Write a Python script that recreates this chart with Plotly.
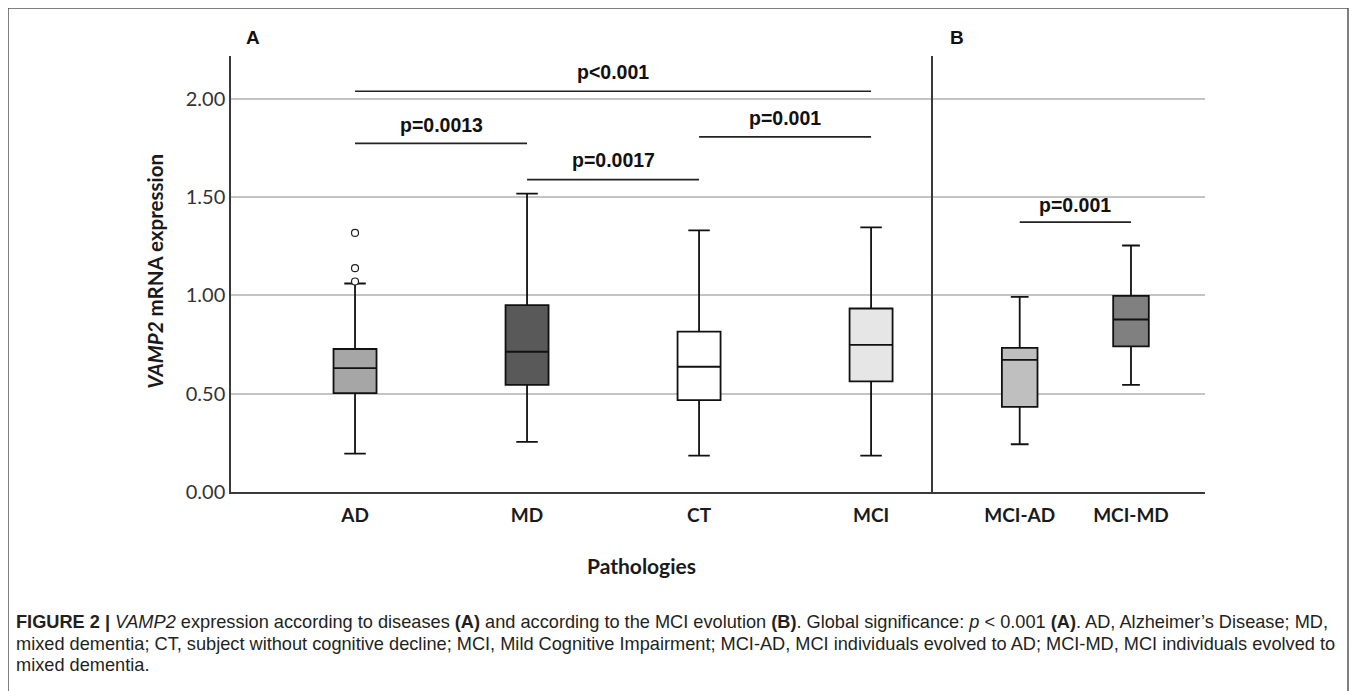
import plotly.graph_objects as go

# ---------------- data ----------------
groups_a = ["AD", "MD", "CT", "MCI"]
q1_a = [0.503, 0.545, 0.467, 0.563]
med_a = [0.630, 0.713, 0.637, 0.748]
q3_a = [0.727, 0.950, 0.815, 0.933]
lo_a = [0.195, 0.255, 0.185, 0.185]
hi_a = [1.060, 1.517, 1.330, 1.345]
colors_a = ["#a6a6a6", "#595959", "#ffffff", "#e6e6e6"]
outliers_ad = [1.317, 1.138, 1.070]

groups_b = ["MCI-AD", "MCI-MD"]
q1_b = [0.433, 0.740]
med_b = [0.672, 0.877]
q3_b = [0.733, 0.997]
lo_b = [0.243, 0.545]
hi_b = [0.992, 1.253]
colors_b = ["#bfbfbf", "#808080"]

# significance brackets: (from, to, level, label, label_y, axis)
sig_pairs = [
    ("AD", "MCI", 2.037, "p&lt;0.001", 2.135, "A"),
    ("AD", "MD", 1.772, "p=0.0013", 1.865, "A"),
    ("MD", "CT", 1.588, "p=0.0017", 1.690, "A"),
    ("CT", "MCI", 1.805, "p=0.001", 1.900, "A"),
    ("MCI-AD", "MCI-MD", 1.372, "p=0.001", 1.460, "B"),
]

y_ticks = [0.0, 0.5, 1.0, 1.5, 2.0]

# page has an 8px body margin; map screen pixels to figure fractions
OFF = 8
W, H = 1341, 683
def px_x(p): return (p - OFF) / W
def px_y(p): return 1 - (p - OFF) / H

fig = go.Figure()

for i, g in enumerate(groups_a):
    fig.add_trace(go.Box(
        x=[g], q1=[q1_a[i]], median=[med_a[i]], q3=[q3_a[i]],
        lowerfence=[lo_a[i]], upperfence=[hi_a[i]],
        fillcolor=colors_a[i], line=dict(color="#111111", width=1.8),
        width=0.25, whiskerwidth=0.5, boxpoints=False,
        xaxis="x", yaxis="y", showlegend=False, hoverinfo="skip"))

fig.add_trace(go.Scatter(
    x=["AD"] * len(outliers_ad), y=outliers_ad, mode="markers",
    marker=dict(symbol="circle", size=7, color="white",
                line=dict(color="#222222", width=1.2)),
    xaxis="x", yaxis="y", showlegend=False, hoverinfo="skip"))

for i, g in enumerate(groups_b):
    fig.add_trace(go.Box(
        x=[g], q1=[q1_b[i]], median=[med_b[i]], q3=[q3_b[i]],
        lowerfence=[lo_b[i]], upperfence=[hi_b[i]],
        fillcolor=colors_b[i], line=dict(color="#111111", width=1.8),
        width=0.32, whiskerwidth=0.5, boxpoints=False,
        xaxis="x2", yaxis="y2", showlegend=False, hoverinfo="skip"))

annotations = []
for a, b, lvl, lab, ly, ax in sig_pairs:
    xa, ya = ("x", "y") if ax == "A" else ("x2", "y2")
    cats = groups_a if ax == "A" else groups_b
    fig.add_trace(go.Scatter(
        x=[a, b], y=[lvl, lvl], mode="lines",
        line=dict(color="#222222", width=1.6),
        xaxis=xa, yaxis=ya, showlegend=False, hoverinfo="skip"))
    mid = (cats.index(a) + cats.index(b)) / 2
    annotations.append(dict(
        x=mid, y=ly, xref=xa, yref=ya, text="<b>" + lab + "</b>",
        xanchor="center", yanchor="middle",
        showarrow=False, font=dict(family="Liberation Sans, Arial", size=19.5, color="#111111")))

# panel letters
for lab, xp in (("A", 253), ("B", 957)):
    annotations.append(dict(x=px_x(xp), y=px_y(38), xref="paper", yref="paper", text="<b>" + lab + "</b>",
                            xanchor="center", yanchor="middle",
                            showarrow=False, font=dict(family="Liberation Sans, Arial", size=19, color="#111111")))
# axis titles
annotations.append(dict(x=px_x(155), y=px_y(276), xref="paper", yref="paper",
                        text="<b><i>VAMP2</i> mRNA expression</b>", textangle=-90,
                        xanchor="center", yanchor="middle",
                        showarrow=False, font=dict(family="Lato, Open Sans", size=20.5, color="#1a1a1a")))
annotations.append(dict(x=px_x(641), y=px_y(575), xref="paper", yref="paper",
                        text="<b>Pathologies</b>", xanchor="center", yanchor="middle",
                        showarrow=False, font=dict(family="Lato, Open Sans", size=21, color="#1a1a1a")))

caption_lines = [
    "<b>FIGURE 2 |</b> <i>VAMP2</i> expression according to diseases <b>(A)</b> and according to the MCI evolution <b>(B)</b>. Global significance: <i>p</i> &lt; 0.001 <b>(A)</b>. AD, Alzheimer\u2019s Disease; MD,",
    "mixed dementia; CT, subject without cognitive decline; MCI, Mild Cognitive Impairment; MCI-AD, MCI individuals evolved to AD; MCI-MD, MCI individuals evolved to",
    "mixed dementia.",
]
for k, line in enumerate(caption_lines):
    annotations.append(dict(x=px_x(14), y=px_y(632 + 22 * k), xref="paper", yref="paper",
                            xanchor="left", yanchor="middle", text=line, showarrow=False,
                            font=dict(family="Liberation Sans, Arial", size=18.2,
                                      color="#231f20")))

axis_common = dict(showline=True, linecolor="#3a3a3a", linewidth=1.5, ticks="",
                   showgrid=False, zeroline=False, fixedrange=True, ticklabelstandoff=5)
yaxis_common = dict(range=[0, 2.215], showgrid=True, gridcolor="#c4c4c4", gridwidth=1.5,
                    tickvals=y_ticks, showline=True, linecolor="#3a3a3a", linewidth=1.5,
                    ticks="", zeroline=False)

fig.update_layout(
    width=W, height=H, margin=dict(l=0, r=0, t=0, b=0),
    paper_bgcolor="white", plot_bgcolor="white",
    xaxis=dict(domain=[px_x(231), px_x(933)], type="category", categoryarray=groups_a,
               categoryorder="array", range=[-0.721, 3.36], anchor="y",
               tickfont=dict(family="Lato, Open Sans", size=19, color="#1a1a1a"),
               tickprefix="<b>", ticksuffix="</b>", **axis_common),
    xaxis2=dict(domain=[px_x(933), px_x(1205)], type="category", categoryarray=groups_b,
                categoryorder="array", range=[-0.779, 1.665], anchor="y2",
                tickfont=dict(family="Lato, Open Sans", size=19, color="#1a1a1a"),
                tickprefix="<b>", ticksuffix="</b>", **axis_common),
    yaxis=dict(domain=[px_y(500), px_y(57)], anchor="x", tickformat=".2f",
               tickfont=dict(family="Lato, Open Sans", size=20, color="#333333"),
               **yaxis_common),
    yaxis2=dict(domain=[px_y(500), px_y(57)], anchor="x2", showticklabels=False,
                **yaxis_common),
    annotations=annotations,
    shapes=[dict(type="rect", xref="paper", yref="paper",
                 x0=px_x(8), x1=px_x(1348), y0=px_y(740), y1=px_y(8),
                 line=dict(color="#555555", width=1.5), fillcolor="rgba(0,0,0,0)", layer="below")],
)

fig.write_html("out.html")
